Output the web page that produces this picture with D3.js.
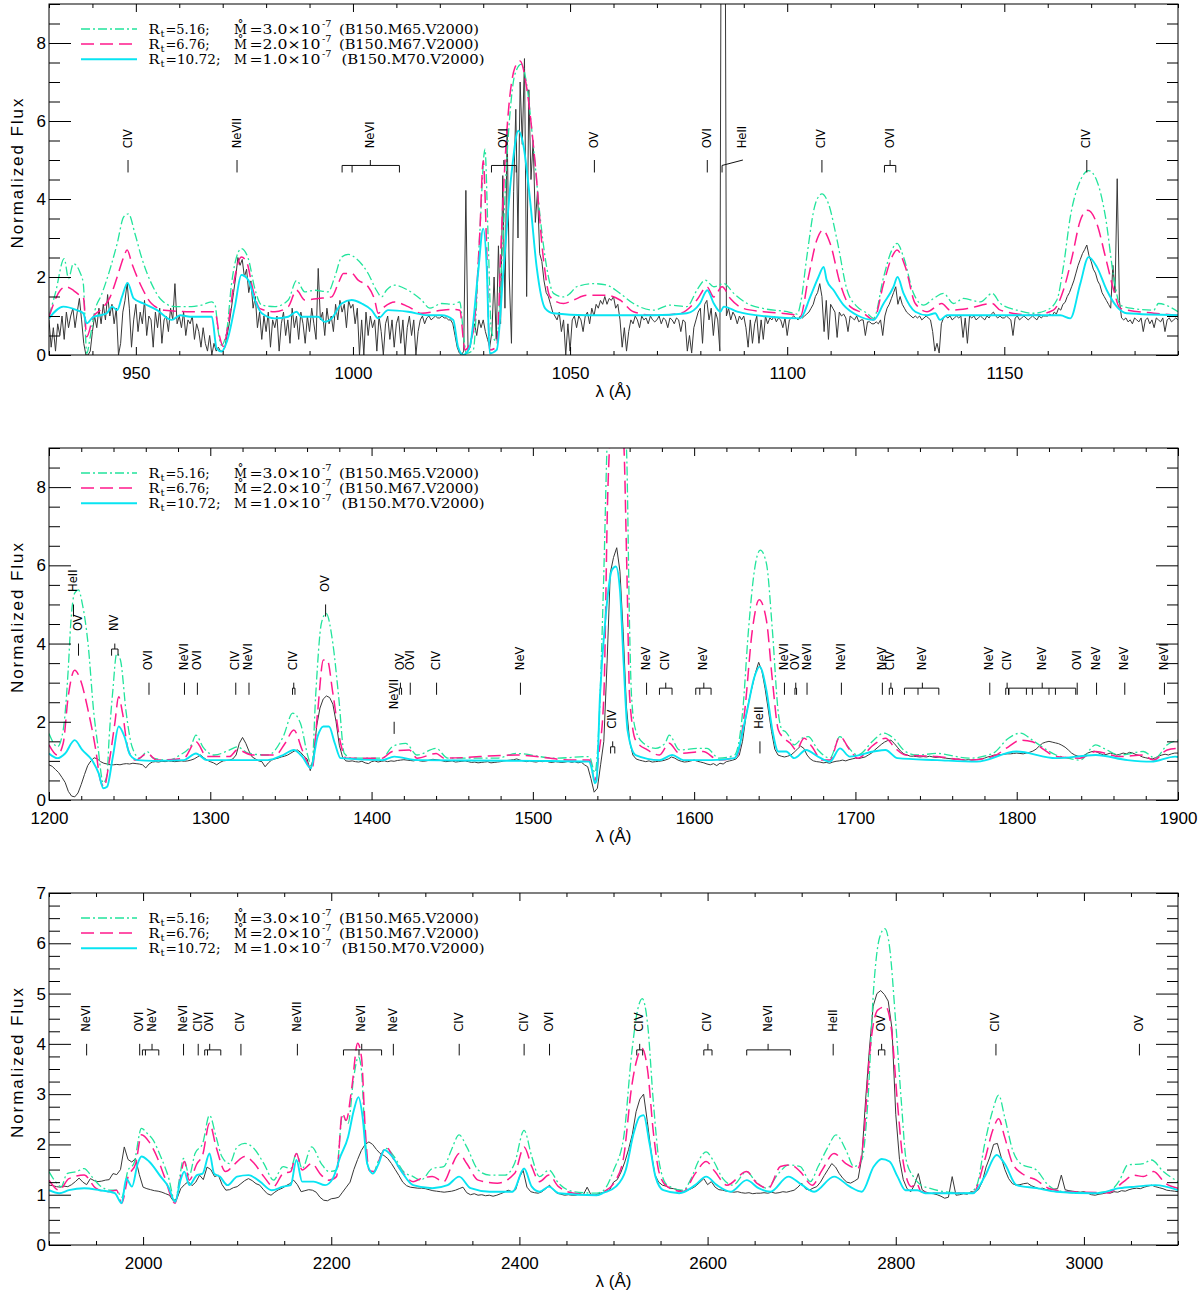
<!DOCTYPE html>
<html><head><meta charset="utf-8">
<script src="https://cdn.jsdelivr.net/npm/d3@7"></script>
<style>body{margin:0;background:#fff}svg{display:block}</style>
</head><body>
<svg id="chart" width="1202" height="1296"></svg>
<script>
// ---------------- DATA ----------------
const P1_XRANGE = [930, 1190], P2_XRANGE = [1200, 1900], P3_XRANGE = [1900, 3100];
const P1_YRANGE = [0, 9], P2_YRANGE = [0, 9], P3_YRANGE = [0, 7];
const P1_XTICKS = [950, 1000, 1050, 1100, 1150];
const P2_XTICKS = [1200, 1300, 1400, 1500, 1600, 1700, 1800, 1900];
const P3_XTICKS = [2000, 2200, 2400, 2600, 2800, 3000];
const P1_YTICKS = [0, 2, 4, 6, 8], P2_YTICKS = [0, 2, 4, 6, 8], P3_YTICKS = [0, 1, 2, 3, 4, 5, 6, 7];

const LEG_RT = ["5.16", "6.76", "10.72"];
const LEG_MDOT = ["3.0", "2.0", "1.0"];
const LEG_MODEL = ["B150.M65.V2000", "B150.M67.V2000", "B150.M70.V2000"];

// observed spectrum, panel 1 (start 930, step 0.5 A)
const P1_OBS_START = 930, P1_OBS_STEP = 0.5;
const P1_OBS = [
0.9,0.2,0.7,0.1,0.8,0.5,1.0,0.4,1.1,0.7,1.0,1.2,0.7,1.1,1.45,0.9,0.3,0.0,0.0,0.1,
0.6,1.0,0.7,1.2,0.8,1.3,0.9,1.55,1.0,1.3,0.8,1.2,0.0,0.3,1.1,1.4,1.85,1.2,0.2,0.9,
1.3,0.6,1.1,0.8,1.4,0.5,1.0,0.9,0.2,1.1,0.7,1.2,0.3,0.9,1.0,0.6,1.2,0.9,1.83,0.8,
1.0,0.7,1.1,0.5,0.9,0.8,1.0,0.4,0.8,0.6,0.2,0.7,0.3,0.1,0.5,0.0,0.3,0.1,0.2,0.1,
0.1,0.2,0.5,0.8,1.2,1.6,2.0,2.5,2.3,2.45,2.0,2.2,1.6,1.9,1.2,1.5,0.7,1.1,0.4,1.0,
0.6,1.1,0.2,0.9,0.7,1.0,0.1,0.8,1.1,0.5,0.9,0.3,1.2,0.7,1.0,0.4,1.1,0.8,0.3,1.0,
0.6,1.2,0.8,0.4,2.22,0.9,1.1,0.5,1.2,0.8,1.0,0.6,1.3,0.9,1.4,1.1,1.3,0.7,1.4,1.2,
1.3,0.8,1.2,0.0,0.9,0.0,1.1,0.5,1.0,0.7,0.9,0.1,1.0,0.6,0.0,0.8,1.0,0.4,0.9,0.2,
0.8,1.0,0.3,0.9,0.0,0.7,1.0,0.5,0.9,0.0,0.6,0.9,1.0,0.8,0.95,1.0,0.9,0.95,1.0,0.95,
0.95,1.0,0.95,0.95,0.9,0.9,0.8,0.5,0.2,0.05,0.0,0.1,4.22,0.1,0.2,0.6,0.8,0.5,0.9,0.7,
0.9,0.6,0.4,0.2,0.6,2.0,0.4,2.8,0.8,4.6,1.2,5.8,2.0,0.3,4.2,6.3,3.0,7.0,5.4,7.6,
1.5,6.8,4.5,5.5,3.4,4.2,2.6,2.4,1.9,1.6,1.5,1.3,1.1,1.0,0.9,1.1,0.6,0.9,0.0,0.8,
0.1,0.9,1.0,0.7,1.0,0.9,0.6,1.0,1.1,0.8,1.2,1.0,1.3,1.2,1.4,1.3,1.5,1.3,1.45,1.4,
1.5,1.2,1.3,0.9,0.2,0.7,0.1,0.6,0.9,0.8,1.0,0.9,0.7,1.0,0.9,0.95,0.8,1.0,0.9,0.85,
0.9,1.0,0.8,0.95,0.9,0.7,0.95,0.9,0.8,0.95,0.9,0.6,0.9,0.85,0.1,0.5,0.05,0.7,0.9,1.1,
1.2,0.3,1.3,1.4,0.9,1.2,0.5,1.1,0.9,0.1,20,20,1.0,1.2,0.9,1.1,1.0,0.8,1.0,0.9,
1.0,0.7,0.2,0.9,0.3,0.8,1.0,0.3,0.9,0.4,1.0,0.8,0.95,0.9,1.0,0.85,0.95,0.9,0.7,0.95,
0.5,0.9,0.95,1.0,0.95,0.9,1.0,0.95,1.0,1.05,1.1,1.2,1.3,1.5,1.6,1.83,1.5,0.6,1.4,0.4,
1.3,1.2,1.1,0.45,1.1,1.0,1.05,0.95,0.6,1.0,0.95,0.9,1.0,0.85,0.9,0.9,0.5,0.85,0.85,0.8,
0.8,0.85,0.8,0.9,0.5,1.0,1.2,1.3,1.45,1.6,1.75,1.3,1.5,1.3,1.2,1.1,1.05,1.0,0.95,1.0,
0.95,1.0,0.9,0.95,1.0,0.95,0.9,0.6,0.1,0.3,0.05,0.8,0.95,1.0,0.95,1.0,0.9,0.95,1.0,0.95,
1.0,0.45,0.95,0.3,1.0,0.95,1.0,0.9,0.95,1.0,0.95,0.9,1.0,0.95,1.05,1.1,1.0,0.95,1.0,0.95,
0.95,1.0,0.95,0.9,0.5,0.95,1.0,0.9,0.95,1.0,0.95,0.9,0.95,1.0,0.95,0.9,1.0,0.95,1.0,1.0,
1.0,1.05,1.0,1.1,1.05,1.2,1.15,1.3,1.35,1.5,1.6,1.75,1.9,2.1,2.3,2.45,2.6,2.7,2.82,2.55,
2.4,2.2,2.1,1.9,1.8,1.6,1.5,1.4,1.3,1.2,2.3,1.6,4.52,1.4,0.95,0.9,0.95,0.85,0.9,0.8,
0.95,0.9,0.85,0.95,0.6,0.9,0.95,0.8,0.9,0.7,0.95,0.9,0.85,0.95,0.6,0.9,0.95,0.85,0.9,0.95,0.9
];
const P1_M65 = [[930,1.0],[931.5,1.6],[933.5,2.47],[934.5,1.96],[935.6,2.34],[937.1,2.13],[937.9,1.83],[938.7,0.04],[939.5,0.47],[940.6,1.15],[942.1,1.55],[943.0,1.83],[945.7,2.86],[947.2,3.54],[948.3,3.62],[949.8,3.11],[951.3,2.51],[953.6,1.83],[955.9,1.41],[959.0,1.24],[962.8,1.24],[965.1,1.28],[967.4,1.36],[968.2,1.3],[969.0,0.59],[969.7,0.25],[970.9,0.59],[972.0,1.79],[973.6,2.64],[974.3,2.73],[975.9,2.47],[977.4,1.7],[979.0,1.28],[982.0,1.24],[985.1,1.41],[987.0,1.91],[988.9,1.62],[991.2,1.66],[994.3,1.62],[995.8,2.0],[997.4,2.51],[998.9,2.58],[1000.8,2.47],[1003.5,2.09],[1005.4,1.66],[1006.6,1.49],[1007.7,1.66],[1009.6,1.79],[1012.7,1.66],[1015.8,1.41],[1017.7,1.2],[1020.4,1.32],[1023.1,1.3],[1024.6,1.36],[1025.4,0.6],[1026.1,0.04],[1027.7,0.13],[1029.2,3.11],[1030.4,5.28],[1031.1,3.11],[1031.9,0.6],[1033.1,0.34],[1034.2,2.26],[1035.8,5.67],[1037.3,7.2],[1038.8,7.46],[1040.0,6.95],[1041.5,5.41],[1043.1,3.54],[1044.6,2.26],[1046.2,1.58],[1048.5,1.49],[1050.0,1.58],[1051.5,1.75],[1055.4,1.83],[1058.5,1.79],[1061.5,1.58],[1064.6,1.32],[1069.2,1.15],[1073.0,1.28],[1076.9,1.24],[1079.2,1.66],[1081.1,1.92],[1083.1,1.75],[1085.4,1.83],[1087.7,1.58],[1090.8,1.32],[1094.6,1.19],[1100.0,1.11],[1102.3,1.05],[1103.2,1.4],[1104.5,2.5],[1106.5,3.88],[1108.0,4.13],[1109.5,3.88],[1111.5,2.94],[1113.8,1.66],[1116.1,1.24],[1118.4,1.07],[1119.9,0.94],[1122.2,2.0],[1124.1,2.69],[1125.3,2.86],[1126.8,2.51],[1129.1,1.58],[1131.4,1.28],[1133.7,1.45],[1136.0,1.58],[1138.3,1.32],[1140.6,1.45],[1144.5,1.36],[1147.2,1.58],[1149.1,1.32],[1152.9,1.15],[1156.7,1.07],[1159.8,1.15],[1162.1,1.41],[1163.6,2.26],[1165.2,3.54],[1167.5,4.47],[1169.4,4.73],[1171.3,4.47],[1173.3,3.54],[1175.2,2.0],[1176.7,1.28],[1179.8,1.19],[1184.4,1.15],[1185.5,1.32],[1190,1.11]];
const P1_M67 = [[930,0.98],[932.6,1.66],[933.8,1.75],[935.6,1.66],[937.1,1.53],[937.9,1.49],[938.7,0.47],[940.2,0.98],[941.8,1.15],[944.1,1.49],[945.7,2.0],[947.2,2.51],[948.0,2.69],[949.1,2.34],[951.3,1.75],[953.6,1.32],[956.6,1.15],[962.8,1.11],[968.2,1.11],[969.3,0.47],[970.1,0.22],[971.3,0.81],[972.8,2.0],[974.3,2.51],[975.5,2.39],[977.0,1.66],[978.6,1.19],[982.0,1.11],[985.1,1.24],[987.0,1.66],[988.9,1.41],[992.0,1.45],[995.1,1.49],[996.6,1.83],[997.8,2.09],[999.7,2.09],[1001.2,1.92],[1003.5,1.75],[1005.0,1.41],[1005.8,1.07],[1007.3,1.24],[1009.6,1.36],[1012.7,1.24],[1015.8,1.07],[1020.4,1.15],[1023.1,1.17],[1024.6,1.15],[1025.8,0.13],[1027.7,0.6],[1029.2,3.11],[1030.0,4.98],[1030.8,2.69],[1031.5,0.13],[1033.1,0.21],[1034.2,3.11],[1035.4,5.67],[1037.3,7.37],[1038.5,7.54],[1040.0,6.86],[1041.9,4.98],[1043.9,2.43],[1045.4,1.49],[1048.5,1.32],[1050.8,1.41],[1053.8,1.53],[1058.5,1.53],[1061.5,1.41],[1064.6,1.11],[1069.2,1.02],[1075.4,1.07],[1079.2,1.41],[1081.5,1.75],[1083.1,1.49],[1085.0,1.75],[1086.9,1.45],[1090.0,1.19],[1094.6,1.11],[1102.3,1.02],[1103,0.98],[1104.9,2.0],[1106.8,2.94],[1108.2,3.2],[1109.9,2.86],[1112.2,1.83],[1114.5,1.24],[1117.6,1.07],[1119.9,0.9],[1122.2,1.83],[1124.1,2.51],[1125.3,2.69],[1127.2,2.26],[1129.5,1.32],[1132.2,1.11],[1135.6,1.32],[1137.5,1.15],[1141.4,1.19],[1147.2,1.32],[1149.1,1.15],[1156.7,1.02],[1161.3,1.15],[1163.6,1.66],[1165.6,2.51],[1167.5,3.45],[1169.2,3.71],[1171.3,3.37],[1173.3,2.51],[1175.2,1.66],[1176.7,1.19],[1184.4,1.07],[1190,1.02]];
const P1_M70 = [[930,0.94],[933.3,1.24],[936.4,1.15],[937.9,1.07],[938.7,0.81],[940.2,0.98],[941.8,1.02],[943.3,1.07],[944.5,1.24],[945.7,1.15],[946.8,1.49],[948.1,1.85],[949.5,1.45],[951.8,1.32],[954.9,1.15],[958.3,0.9],[960.2,1.02],[962.5,0.98],[967.5,0.98],[968.6,0.17],[969.7,0.09],[971.3,0.47],[972.8,1.24],[974.3,2.05],[975.9,1.92],[977.4,1.41],[979.0,1.07],[982.0,0.94],[985.1,0.98],[987.0,1.11],[988.1,0.98],[992.0,0.98],[993.5,0.85],[995.1,0.94],[997.4,1.32],[999.7,1.41],[1002.0,1.32],[1004.3,1.15],[1005.8,0.94],[1008.1,1.15],[1012.7,1.11],[1017.3,1.02],[1020.4,1.02],[1023.1,0.9],[1024.2,0.21],[1025.4,0.0],[1026.9,0.21],[1028.8,2.09],[1030.0,3.24],[1030.8,2.26],[1031.5,0.04],[1033.1,0.13],[1034.6,2.09],[1036.5,4.64],[1038.1,5.75],[1039.2,5.41],[1040.8,3.96],[1042.3,2.26],[1044.3,1.19],[1046.2,1.07],[1053.8,1.02],[1061.5,1.02],[1069.2,1.02],[1076.9,1.07],[1079.9,1.32],[1081.6,1.66],[1083.1,1.32],[1084.6,1.11],[1085.4,1.24],[1088.5,1.11],[1096.1,0.98],[1103.0,0.94],[1105.3,1.49],[1107.2,2.0],[1108.4,2.26],[1109.1,1.92],[1110.7,1.66],[1113.0,1.28],[1116.1,1.02],[1119.9,0.9],[1122.2,1.32],[1124.5,1.75],[1125.4,2.0],[1126.8,1.58],[1129.5,1.11],[1132.2,1.02],[1134.1,1.07],[1135.2,0.9],[1136.8,1.02],[1149.1,1.02],[1162.9,1.02],[1165.2,0.94],[1167.5,1.83],[1169.4,2.51],[1171.3,2.26],[1173.6,1.66],[1175.9,1.24],[1178.2,1.07],[1190,1.02]];

// observed spectrum, panel 2 (start 1200, step 2 A)
const P2_OBS_START = 1200, P2_OBS_STEP = 2;
const P2_OBS = [
0.9,0.86,0.78,0.7,0.58,0.45,0.22,0.1,0.08,0.18,
0.4,0.65,0.88,1.0,1.08,1.05,0.98,0.94,0.92,0.9,
0.9,0.91,0.9,0.92,0.93,0.92,0.94,0.93,0.92,0.9,
0.82,0.92,0.97,0.98,0.97,0.99,0.98,1.0,0.99,0.98,
0.99,1.0,0.99,1.0,1.02,1.05,1.1,1.15,1.08,1.02,
0.98,0.95,0.9,0.96,1.0,1.01,1.02,1.05,1.15,1.45,
1.6,1.45,1.25,1.1,1.05,1.0,0.98,0.85,0.95,1.02,
1.05,1.07,1.1,1.12,1.15,1.2,1.25,1.28,1.22,1.12,
1.05,0.75,1.1,1.9,2.35,2.58,2.66,2.62,2.45,2.0,
1.4,1.1,1.0,0.99,1.0,0.98,0.97,0.99,0.95,0.93,
0.98,1.0,0.97,0.99,1.0,0.98,1.0,0.99,1.01,1.02,
1.03,1.02,1.01,1.0,1.02,1.0,0.99,1.0,1.02,1.04,
1.03,1.02,1.0,0.98,0.99,1.0,0.97,0.98,0.99,1.0,
0.98,0.96,0.97,0.95,0.96,0.97,0.98,0.95,0.96,0.97,
0.98,1.0,1.01,1.02,1.03,1.05,1.02,1.0,0.98,1.0,
0.98,0.97,0.99,0.98,1.0,0.97,0.96,0.98,0.97,0.96,
0.97,0.99,0.96,0.98,0.95,0.97,0.9,0.85,0.55,0.2,
0.3,0.9,1.5,3.5,5.8,6.2,6.45,5.85,4.3,2.4,
1.5,1.15,1.05,1.02,1.0,0.98,1.0,0.97,0.98,0.99,
1.0,1.02,1.05,1.1,1.07,1.02,0.99,0.97,0.98,1.0,
1.02,0.99,0.97,0.95,0.92,0.9,0.93,0.88,0.94,0.92,
0.98,1.0,1.02,1.05,1.15,1.5,2.1,2.55,2.9,3.25,
3.52,3.3,2.85,2.3,1.75,1.3,1.15,1.12,1.1,1.12,
1.15,1.22,1.3,1.38,1.32,1.15,1.05,1.0,0.98,0.97,
0.95,0.96,0.94,0.97,0.99,1.0,1.02,1.0,1.03,1.05,
1.07,1.06,1.08,1.1,1.15,1.2,1.28,1.35,1.42,1.48,
1.52,1.53,1.45,1.35,1.25,1.18,1.15,1.12,1.12,1.11,
1.1,1.11,1.1,1.12,1.1,1.09,1.1,1.08,1.07,1.06,
1.05,1.04,1.05,1.03,1.02,1.03,1.02,1.03,1.04,1.05,
1.07,1.1,1.12,1.15,1.15,1.16,1.17,1.18,1.18,1.19,
1.2,1.19,1.18,1.2,1.22,1.25,1.3,1.38,1.45,1.48,
1.5,1.48,1.46,1.44,1.4,1.35,1.28,1.2,1.15,1.12,
1.1,1.15,1.2,1.23,1.25,1.22,1.18,1.15,1.17,1.2,
1.18,1.15,1.17,1.2,1.18,1.22,1.2,1.16,1.14,1.1,
1.08,1.06,1.05,1.08,1.12,1.15,1.17,1.15,1.18,1.2,
1.2
];
const P2_M65 = [[1200,1.7],[1205.2,1.36],[1208.8,1.79],[1211.9,3.32],[1213.5,4.52],[1215.9,5.29],[1218.3,5.37],[1220.6,5.03],[1224.2,4.0],[1227.8,2.22],[1230.1,1.45],[1233.7,0.43],[1236,0.64],[1237.2,1.53],[1239.6,2.81],[1242,3.75],[1244.3,3.58],[1247.9,2.22],[1251.5,1.36],[1256.2,1.07],[1260.9,1.24],[1264.5,1.07],[1274,1.02],[1281.2,1.15],[1288.3,1.41],[1291.1,1.66],[1295.4,1.36],[1302.5,1.15],[1312,1.28],[1316.7,1.36],[1323.9,1.19],[1335.7,1.15],[1345.2,1.62],[1351.1,2.22],[1355.9,1.96],[1360.6,1.11],[1363,0.85],[1365.3,2.64],[1368.9,4.52],[1371.8,4.77],[1376,4.0],[1379.6,2.64],[1383.1,1.19],[1387.9,1.07],[1406.6,1.07],[1412.8,1.36],[1421.1,1.45],[1428.2,1.15],[1440.1,1.32],[1447.2,1.07],[1478,1.07],[1489.6,1.19],[1513.6,1.07],[1535,1.11],[1538.5,0.7],[1541,1.96],[1543.8,5.5],[1546.3,9.5],[1549,11.5],[1552,12],[1555,11],[1558.2,8.8],[1560,4.35],[1561.2,2.64],[1563.7,1.79],[1568.6,1.45],[1576,1.32],[1582,1.45],[1584.5,1.66],[1590.9,1.28],[1603,1.32],[1607.9,1.32],[1615.3,1.07],[1625,1.15],[1630,2.22],[1633.7,4.35],[1637.4,5.88],[1641,6.39],[1644.8,6.05],[1648.5,4.35],[1652.2,2.22],[1654.6,1.79],[1656.5,1.75],[1658.3,1.66],[1662,1.41],[1667,1.58],[1670.7,1.62],[1676.8,1.28],[1684.2,1.07],[1690.4,1.62],[1695.3,1.36],[1701.4,1.15],[1711.3,1.53],[1717.4,1.71],[1723.6,1.58],[1731,1.24],[1738.4,1.15],[1750.6,1.19],[1770.3,1.07],[1785.1,1.19],[1794.9,1.58],[1802.3,1.71],[1809.7,1.53],[1817.1,1.32],[1824.4,1.15],[1831.8,1.07],[1839.2,1.02],[1849,1.41],[1854,1.32],[1863.8,1.15],[1878.5,1.24],[1885.9,1.07],[1893.3,1.41],[1900,1.53]];
const P2_M67 = [[1200,1.41],[1205.2,1.15],[1208.8,1.45],[1211.9,2.64],[1215.9,3.32],[1219.5,3.07],[1224.2,2.3],[1229,1.28],[1231.8,0.51],[1234.2,0.34],[1237.2,0.94],[1240.8,1.96],[1243.2,2.64],[1245.6,2.22],[1249.1,1.28],[1253.8,1.02],[1260.9,1.19],[1266.8,1.02],[1283.6,1.07],[1291.1,1.49],[1297.8,1.11],[1312,1.11],[1316.7,1.28],[1326.2,1.15],[1340.4,1.15],[1346.4,1.45],[1351.8,1.79],[1357,1.28],[1363,0.77],[1366.5,2.22],[1370.1,3.58],[1372.5,3.58],[1376,2.73],[1380.8,1.45],[1384.3,1.07],[1406.6,1.07],[1412.8,1.24],[1423.4,1.28],[1428.2,1.07],[1440.1,1.19],[1444.9,1.07],[1489.6,1.15],[1525.2,1.02],[1535,1.02],[1538.5,0.5],[1541,1.2],[1544,2.64],[1546.4,7.76],[1548.8,9.8],[1551.5,10.5],[1554.5,9.8],[1556.3,9.2],[1558.2,6.05],[1560,2.64],[1563.7,1.53],[1571,1.28],[1578.5,1.15],[1584.5,1.45],[1590.9,1.19],[1605.5,1.24],[1615.3,1.02],[1626.2,1.11],[1631.2,2.22],[1636.1,4.35],[1640.3,5.12],[1644.8,4.6],[1648.5,3.07],[1652.2,1.79],[1655.8,1.58],[1659.6,1.45],[1663.3,1.28],[1668.2,1.58],[1673.1,1.36],[1679.2,1.02],[1684.2,1.02],[1690.4,1.62],[1696.5,1.28],[1701.4,1.07],[1711.3,1.41],[1718.6,1.58],[1724.8,1.32],[1731,1.15],[1750.6,1.11],[1770.3,1.02],[1785.1,1.11],[1794.9,1.36],[1802.3,1.53],[1809.7,1.49],[1817.1,1.28],[1824.4,1.11],[1839.2,1.07],[1849,1.24],[1863.8,1.11],[1878.5,1.15],[1884.7,1.02],[1893.3,1.28],[1900,1.32]];
const P2_M70 = [[1200,1.19],[1205.2,1.07],[1210,1.19],[1215.9,1.53],[1220.6,1.28],[1226.6,1.02],[1230.8,0.68],[1233.7,0.3],[1236,0.34],[1239.6,1.11],[1243.2,1.88],[1246.8,1.62],[1250.3,1.15],[1255,1.02],[1264.5,1.0],[1283.6,1.02],[1291.1,1.19],[1297.8,1.02],[1335.7,1.02],[1345.2,1.15],[1351.8,1.28],[1357,1.11],[1362.3,0.81],[1366.5,1.62],[1370.1,1.88],[1373.6,1.88],[1377.2,1.45],[1380.8,1.07],[1406.6,1.02],[1414,1.11],[1428.2,1.02],[1501.6,1.0],[1535,0.98],[1536.5,0.8],[1538.5,0.43],[1539.5,0.5],[1541.6,2.64],[1545.3,4.77],[1549,5.88],[1551.5,5.97],[1554,5.37],[1556.3,3.49],[1558.7,1.79],[1563.7,1.15],[1578.5,1.02],[1586.4,1.15],[1593.3,1.02],[1610.5,1.02],[1625,1.07],[1632.5,2.22],[1637.4,3.15],[1640.6,3.41],[1644.8,2.81],[1648.5,1.79],[1652.2,1.24],[1657.1,1.24],[1662,1.07],[1669.4,1.28],[1676.8,1.11],[1684.2,0.98],[1690.4,1.32],[1696.5,1.11],[1711.3,1.24],[1718.6,1.28],[1726.1,1.07],[1750.6,1.02],[1775.2,0.98],[1799.8,1.24],[1824.4,1.07],[1849,1.15],[1868.7,1.02],[1883.4,0.98],[1898.2,1.11],[1900,1.1]];

// observed spectrum, panel 3 (start 1900, step 4 A)
const P3_OBS_START = 1900, P3_OBS_STEP = 4;
const P3_OBS = [
1.19,1.18,1.16,1.15,1.17,1.16,1.2,1.26,1.33,1.25,
1.2,1.32,1.28,1.26,1.27,1.29,1.3,1.42,1.4,1.5,
1.95,1.7,1.65,1.72,1.4,1.15,1.12,1.1,1.08,1.07,
1.05,1.02,0.99,0.88,0.92,1.12,1.2,1.26,1.18,1.25,
1.39,1.3,1.55,1.5,1.36,1.39,1.2,1.09,1.1,1.14,
1.16,1.22,1.28,1.32,1.28,1.22,1.19,1.1,1.02,0.99,
1.05,1.1,1.13,1.18,1.22,1.29,1.2,1.06,1.08,1.1,
1.09,1.05,0.95,0.89,0.88,0.92,0.93,0.95,1.05,1.15,
1.25,1.5,1.7,1.88,2.0,2.05,2.0,1.9,1.82,1.78,
1.72,1.62,1.5,1.38,1.25,1.18,1.15,1.14,1.13,1.13,
1.12,1.1,1.08,1.07,1.06,1.05,1.06,1.07,1.09,1.12,
1.15,1.04,1.0,1.02,0.99,1.0,0.98,0.99,0.97,0.99,
1.02,1.05,1.09,1.06,1.1,1.35,1.48,1.15,1.06,1.04,
1.03,1.06,1.12,1.19,1.1,1.03,1.01,0.99,1.0,0.99,
0.99,1.02,1.0,1.15,1.0,0.99,1.02,1.04,1.06,1.1,
1.25,1.3,1.45,1.65,1.9,2.2,2.65,2.9,3.0,2.45,
1.85,1.4,1.25,1.19,1.17,1.13,1.12,1.1,1.08,1.06,
1.1,1.13,1.18,1.25,1.32,1.2,1.26,1.15,1.1,1.09,
1.07,1.06,1.05,1.06,1.04,1.03,1.04,1.02,1.03,1.03,
1.04,1.03,1.05,1.03,1.04,1.06,1.05,1.07,1.09,1.15,
1.23,1.12,1.09,1.13,1.16,1.25,1.38,1.5,1.62,1.55,
1.42,1.32,1.25,1.23,1.27,1.32,1.75,2.9,3.9,4.75,
5.0,5.06,4.98,4.85,4.3,2.6,1.7,1.3,1.12,1.06,
1.2,1.42,1.1,1.05,1.03,1.02,1.0,0.97,0.93,0.95,
1.36,0.99,1.0,1.02,1.01,1.06,1.05,1.1,1.26,1.55,
1.75,2.0,2.02,1.75,1.5,1.32,1.22,1.19,1.2,1.22,
1.23,1.18,1.15,1.12,1.13,1.1,1.09,1.11,1.12,1.39,
1.1,1.08,1.07,1.06,1.05,1.06,1.03,1.0,0.99,1.01,
1.02,1.04,1.03,1.06,1.05,1.08,1.07,1.1,1.12,1.13,
1.12,1.15,1.17,1.19,1.16,1.14,1.12,1.09,1.08,1.07,
1.06
];
const P3_M65 = [[1900,1.46],[1906.9,1.26],[1913,1.16],[1919.1,1.42],[1929.2,1.46],[1937.4,1.52],[1945.5,1.36],[1953.6,1.19],[1965.8,1.09],[1971.9,1.09],[1977.2,0.95],[1984.1,1.49],[1990.2,1.62],[1998.3,2.32],[2004.4,2.22],[2010.6,2.09],[2018.7,1.76],[2026.8,1.36],[2034.1,0.86],[2039,1.36],[2043,1.72],[2049.1,1.39],[2055.2,1.82],[2063.3,2.02],[2070.6,2.58],[2077.6,2.15],[2083.7,1.76],[2091.8,1.62],[2099.9,1.95],[2108.1,2.02],[2116.2,1.95],[2128.4,1.62],[2138.6,1.29],[2148.8,1.56],[2156.9,1.52],[2163,1.82],[2169.1,1.52],[2179.2,1.95],[2189.4,1.62],[2197.5,1.46],[2205.6,1.49],[2211.7,2.55],[2217.9,2.42],[2224,3.35],[2228.9,3.74],[2232.1,3.48],[2235,2.48],[2239,1.56],[2244.3,1.42],[2250.4,1.69],[2258.6,1.92],[2266.7,1.76],[2276.9,1.46],[2287,1.36],[2295.2,1.29],[2307.4,1.52],[2319.6,1.56],[2327.7,1.89],[2335.9,2.19],[2344,1.95],[2356.2,1.49],[2368.4,1.39],[2384.7,1.39],[2394.8,1.62],[2405,2.28],[2413.1,1.76],[2421.3,1.36],[2431.4,1.49],[2441.6,1.23],[2457.9,1.06],[2482.3,1.03],[2489.7,1.09],[2500.2,1.49],[2510.9,2.15],[2519.3,3.81],[2525.6,4.67],[2530.6,4.9],[2536.2,4.4],[2542.5,2.81],[2548.8,1.62],[2557.2,1.19],[2574.1,1.09],[2582.5,1.32],[2590.9,1.69],[2598.5,1.85],[2605.7,1.69],[2616.3,1.32],[2626.8,1.19],[2641.6,1.46],[2650,1.29],[2662.6,1.13],[2675.3,1.42],[2685.8,1.59],[2698.5,1.56],[2709.1,1.26],[2717.5,1.56],[2728,1.95],[2736.5,2.19],[2747,1.89],[2755.5,1.56],[2763.9,1.69],[2770.2,2.81],[2776.6,5.13],[2782.9,6.12],[2788.4,6.29],[2793.4,5.93],[2799.8,4.47],[2806.1,2.81],[2811.1,1.69],[2818.7,1.36],[2827.1,1.19],[2835.6,1.13],[2852.5,1.06],[2877.8,1.03],[2886.2,1.19],[2894.6,2.02],[2903.1,2.68],[2909.4,2.98],[2915.7,2.55],[2924.2,1.89],[2932.6,1.62],[2949.5,1.49],[2962.1,1.19],[2970.6,1.09],[2995.9,1.03],[3025.4,1.06],[3038,1.29],[3046.5,1.59],[3063.3,1.62],[3071.8,1.69],[3084.4,1.46],[3100,1.26]];
const P3_M67 = [[1900,1.29],[1910.9,1.09],[1921.1,1.32],[1937.4,1.39],[1949.6,1.13],[1961.8,1.06],[1971.9,1.09],[1977.2,0.83],[1984.1,1.36],[1992.2,1.62],[1998.3,2.19],[2006.4,2.05],[2014.6,1.76],[2022.7,1.36],[2034.1,0.83],[2039,1.26],[2043.8,1.66],[2049.1,1.29],[2057.3,1.62],[2063.3,1.79],[2070.6,2.42],[2077.6,1.95],[2087.7,1.46],[2097.9,1.62],[2108.1,1.76],[2118.2,1.62],[2128.4,1.36],[2138.6,1.16],[2148.8,1.42],[2156.9,1.46],[2163,1.82],[2169.1,1.49],[2179.2,1.62],[2189.4,1.39],[2197.5,1.29],[2205.6,1.36],[2211.7,2.62],[2215.8,2.48],[2222,3.15],[2228,4.01],[2232.1,3.74],[2236.2,2.28],[2240.2,1.49],[2245.5,1.46],[2252.4,1.76],[2258.6,1.95],[2266.7,1.69],[2276.9,1.42],[2287,1.26],[2295.2,1.32],[2307.4,1.36],[2319.6,1.26],[2327.7,1.56],[2335.9,1.82],[2344,1.62],[2356.2,1.29],[2376.5,1.23],[2394.8,1.42],[2405,1.95],[2413.1,1.56],[2421.3,1.26],[2431.4,1.39],[2441.6,1.16],[2457.9,1.03],[2482.3,0.99],[2489.7,1.06],[2502.4,1.29],[2510.9,1.76],[2519.3,3.15],[2525.6,3.74],[2530.6,3.91],[2536.2,3.48],[2542.5,2.22],[2548.8,1.42],[2557.2,1.16],[2574.1,1.06],[2586.8,1.42],[2598.5,1.66],[2607.8,1.46],[2620.5,1.19],[2641.6,1.46],[2652.2,1.23],[2664.8,1.13],[2677.4,1.56],[2688,1.59],[2698.5,1.46],[2711.2,1.19],[2721.7,1.49],[2734.4,1.82],[2747,1.62],[2759.7,1.52],[2766,2.15],[2772.3,3.81],[2780.8,4.67],[2789.2,4.74],[2795.5,4.27],[2801.9,2.81],[2808.2,1.62],[2816.6,1.16],[2822.1,1.23],[2827.1,1.06],[2844,1.03],[2882,1.03],[2894.6,1.69],[2903.1,2.28],[2909.4,2.51],[2915.7,2.15],[2924.2,1.62],[2936.8,1.39],[2949.5,1.29],[2962.1,1.13],[2983.2,1.06],[3025.4,1.04],[3042.3,1.26],[3052.8,1.39],[3063.3,1.36],[3073.9,1.46],[3086.5,1.23],[3100,1.13]];
const P3_M70 = [[1900,1.09],[1910.9,1.03],[1921.1,1.09],[1937.4,1.13],[1953.6,1.09],[1969.9,1.03],[1977.2,0.83],[1982.1,1.32],[1988.2,1.16],[1994.3,1.62],[1998.3,1.76],[2006.4,1.66],[2018.7,1.36],[2026.8,1.16],[2034.1,0.86],[2039.8,1.29],[2043.8,1.46],[2049.1,1.19],[2057.3,1.39],[2063.3,1.42],[2070.6,1.82],[2075.5,1.42],[2081.6,1.36],[2089.7,1.19],[2099.9,1.36],[2112.1,1.39],[2124.3,1.26],[2136.6,1.09],[2148.8,1.16],[2156.9,1.19],[2163,1.69],[2169.1,1.26],[2181.3,1.26],[2193.5,1.19],[2201.6,1.32],[2209.7,1.76],[2217.9,2.15],[2224,2.68],[2228.9,2.94],[2233.3,2.55],[2238.2,1.62],[2244.3,1.42],[2250.4,1.62],[2256.5,1.89],[2264.7,1.76],[2274.8,1.46],[2287,1.19],[2307.4,1.13],[2323.7,1.19],[2335.9,1.36],[2348.1,1.13],[2368.4,1.06],[2392.8,1.06],[2405,1.52],[2413.1,1.16],[2421.3,1.06],[2431.4,1.16],[2441.6,1.03],[2482.3,0.99],[2489.7,1.04],[2502.4,1.16],[2513,1.49],[2521.4,2.22],[2527.7,2.55],[2532,2.58],[2538.3,2.02],[2544.6,1.36],[2553,1.09],[2569.9,1.03],[2586.8,1.19],[2598.5,1.36],[2609.9,1.19],[2624.7,1.06],[2641.6,1.29],[2654.2,1.13],[2666.9,1.06],[2685.8,1.36],[2700.6,1.19],[2713.3,1.06],[2734.4,1.36],[2751.2,1.16],[2763.9,1.06],[2776.6,1.56],[2785,1.71],[2793.4,1.66],[2801.9,1.36],[2810.3,1.09],[2822.9,1.09],[2831.4,1.03],[2882,1.03],[2894.6,1.36],[2907.3,1.79],[2915.7,1.62],[2928.4,1.19],[2949.5,1.13],[2970.6,1.06],[3012.8,1.03],[3038,1.13],[3054.9,1.16],[3076,1.19],[3100,1.09]];

// line identifications: label, component wavelengths, optional centre / label position / level offset
const P1_IDS = [
 {t:"CIV",w:[948.2]},{t:"NeVII",w:[973.3]},{t:"NeVI",w:[997.5,999.8,1010.7],c:1004.0},
 {t:"OVI",w:[1031.9,1037.6]},{t:"OV",w:[1055.6]},{t:"OVI",w:[1081.6]},
 {t:"HeII",w:[1085.0],lab:1089.8},{t:"CIV",w:[1108.0]},{t:"OVI",w:[1122.4,1125.0]},{t:"CIV",w:[1169.0]}
];
const P2_IDS = [
 {t:"HeII",w:[1215.2],off:2.0},{t:"OV",w:[1218.3],off:1.0},{t:"NV",w:[1238.8,1242.8],off:1.0},
 {t:"OVI",w:[1262]},{t:"NeVI",w:[1284]},{t:"OVI",w:[1292]},{t:"CIV",w:[1315.8]},{t:"NeVI",w:[1324]},
 {t:"CIV",w:[1351,1352.5]},{t:"OV",w:[1371.5],off:2.0},{t:"NeVII",w:[1414],off:-1.0},
 {t:"OV",w:[1417.2,1418.6]},{t:"OVI",w:[1424]},{t:"CIV",w:[1440.3]},{t:"NeV",w:[1492.3]},
 {t:"CIV",w:[1548.2,1550.8],off:-1.5},{t:"NeV",w:[1570.5]},{t:"CIV",w:[1578.5,1586.3]},
 {t:"NeV",w:[1601,1603.5,1610.5],c:1606},{t:"HeII",w:[1640.8],off:-1.5},{t:"NeVI",w:[1656]},
 {t:"OV",w:[1662.5,1663.5]},{t:"NeVI",w:[1670]},{t:"NeVI",w:[1691.3]},{t:"NeV",w:[1716.7]},
 {t:"CIV",w:[1721,1723]},{t:"NeV",w:[1730.4,1738.8,1751.7],c:1741.5},{t:"NeV",w:[1783.3]},
 {t:"CIV",w:[1793.2,1794.9]},{t:"NeV",w:[1795.2,1806,1809.7,1820,1824,1836.6],c:1815.8},
 {t:"OVI",w:[1837.5]},{t:"NeV",w:[1849.5]},{t:"NeV",w:[1867]},{t:"NeVI",w:[1891.6]}
];
const P3_IDS = [
 {t:"NeVI",w:[1940]},{t:"OVI",w:[1996.4]},{t:"NeV",w:[1999.3,2002.5,2016.7],c:2009.5},
 {t:"NeVI",w:[2043]},{t:"CIV",w:[2058.6]},{t:"OVI",w:[2065.5,2068.5,2082.6],c:2070.8},
 {t:"CIV",w:[2104]},{t:"NeVII",w:[2164]},{t:"NeVI",w:[2213,2229.5,2253.5],c:2232.4},
 {t:"NeV",w:[2266]},{t:"CIV",w:[2336]},{t:"CIV",w:[2405]},{t:"OVI",w:[2432]},
 {t:"CIV",w:[2524.7,2531]},{t:"CIV",w:[2596,2604.7]},{t:"NeVI",w:[2641.6,2688],c:2664.3},
 {t:"HeII",w:[2733.5]},{t:"OV",w:[2781.6,2788.4]},{t:"CIV",w:[2906.5]},{t:"OV",w:[3059]}
];

// ---------------- DRAWING ----------------
const svg = d3.select("#chart");
const L = 49, R = 1178;
const SERIES_STYLE = [
  {color:"#22e49c", dash:"9,3,2,3", width:1.3},
  {color:"#ff1a8c", dash:"13,6", width:1.5},
  {color:"#08e4f2", dash:null, width:1.9}
];
const OBS_COLOR = "#383838";
const expand = (s, st, arr) => arr.map((v, i) => [s + st * i, v]);
const rangeEx = (a, b, st, maj) => d3.range(a, b + st / 2, st).map(v => +v.toFixed(4)).filter(v => !maj.includes(v));

const PANELS = [
  {top:4, bot:355, xd:P1_XRANGE, yd:P1_YRANGE, xMaj:P1_XTICKS, xMinStep:10, yMaj:P1_YTICKS, yMinStep:0.5,
   obs:expand(P1_OBS_START, P1_OBS_STEP, P1_OBS), models:[P1_M65, P1_M67, P1_M70], ids:P1_IDS,
   lev:{lo:4.68, mid:4.86, hi:5.0, lab:5.3}},
  {top:448, bot:800, xd:P2_XRANGE, yd:P2_YRANGE, xMaj:P2_XTICKS, xMinStep:20, yMaj:P2_YTICKS, yMinStep:0.5,
   obs:expand(P2_OBS_START, P2_OBS_STEP, P2_OBS), models:[P2_M65, P2_M67, P2_M70], ids:P2_IDS,
   lev:{lo:2.69, mid:2.86, hi:3.0, lab:3.32}},
  {top:893, bot:1245, xd:P3_XRANGE, yd:P3_YRANGE, xMaj:P3_XTICKS, xMinStep:50, yMaj:P3_YTICKS, yMinStep:0.25,
   obs:expand(P3_OBS_START, P3_OBS_STEP, P3_OBS), models:[P3_M65, P3_M67, P3_M70], ids:P3_IDS,
   lev:{lo:3.77, mid:3.88, hi:4.0, lab:4.24}}
];

const TICK_FONT = "'Liberation Sans', Arial, sans-serif";
const LEG_FONT = "'DejaVu Serif', serif";

PANELS.forEach((p, pi) => {
  const x = d3.scaleLinear().domain(p.xd).range([L, R]);
  const y = d3.scaleLinear().domain(p.yd).range([p.bot, p.top]);
  const g = svg.append("g");

  const clipId = "clip" + pi;
  svg.append("clipPath").attr("id", clipId).append("rect")
    .attr("x", L).attr("y", p.top).attr("width", R - L).attr("height", p.bot - p.top);

  const data = g.append("g").attr("clip-path", `url(#${clipId})`);
  const lin = d3.line().x(d => x(d[0])).y(d => y(d[1]));
  const smooth = d3.line().x(d => x(d[0])).y(d => y(d[1])).curve(d3.curveMonotoneX);

  data.append("path").attr("d", lin(p.obs)).attr("fill", "none")
    .attr("stroke", OBS_COLOR).attr("stroke-width", 1).attr("stroke-linejoin", "round");
  p.models.forEach((m, i) => {
    const s = SERIES_STYLE[i];
    data.append("path").attr("d", smooth(m)).attr("fill", "none")
      .attr("stroke", s.color).attr("stroke-width", s.width)
      .attr("stroke-dasharray", s.dash);
  });

  // axes
  const xMin = rangeEx(p.xd[0], p.xd[1], p.xMinStep, p.xMaj);
  const yMin = rangeEx(p.yd[0], p.yd[1], p.yMinStep, p.yMaj);
  const clean = sel => { sel.select(".domain").remove(); sel.attr("font-family", TICK_FONT).attr("font-size", 17).attr("color", "#000"); };
  const blank = () => "";
  g.append("g").attr("transform", `translate(0,${p.bot})`)
    .call(d3.axisBottom(x).tickValues(p.xMaj).tickSize(-8).tickPadding(12).tickFormat(d3.format("d"))).call(clean);
  g.append("g").attr("transform", `translate(0,${p.bot})`)
    .call(d3.axisBottom(x).tickValues(xMin).tickSize(-4).tickFormat(blank)).call(clean);
  g.append("g").attr("transform", `translate(0,${p.top})`)
    .call(d3.axisTop(x).tickValues(p.xMaj).tickSize(-8).tickFormat(blank)).call(clean);
  g.append("g").attr("transform", `translate(0,${p.top})`)
    .call(d3.axisTop(x).tickValues(xMin).tickSize(-4).tickFormat(blank)).call(clean);
  g.append("g").attr("transform", `translate(${L},0)`)
    .call(d3.axisLeft(y).tickValues(p.yMaj).tickSize(-22).tickPadding(3).tickFormat(d3.format("d"))).call(clean);
  g.append("g").attr("transform", `translate(${L},0)`)
    .call(d3.axisLeft(y).tickValues(yMin).tickSize(-11).tickFormat(blank)).call(clean);
  g.append("g").attr("transform", `translate(${R},0)`)
    .call(d3.axisRight(y).tickValues(p.yMaj).tickSize(-22).tickFormat(blank)).call(clean);
  g.append("g").attr("transform", `translate(${R},0)`)
    .call(d3.axisRight(y).tickValues(yMin).tickSize(-11).tickFormat(blank)).call(clean);
  g.append("rect").attr("x", L).attr("y", p.top).attr("width", R - L).attr("height", p.bot - p.top)
    .attr("fill", "none").attr("stroke", "#000").attr("stroke-width", 1);

  // axis titles
  g.append("text").attr("x", (L + R) / 2).attr("y", p.bot + 42).attr("text-anchor", "middle")
    .attr("font-family", TICK_FONT).attr("font-size", 17).text("λ (Å)");
  g.append("text").attr("transform", `translate(22.5,${(p.top + p.bot) / 2 - 6}) rotate(-90)`)
    .attr("text-anchor", "middle").attr("font-family", TICK_FONT).attr("font-size", 17)
    .attr("textLength", 150).attr("lengthAdjust", "spacing").text("Normalized Flux");

  // line identifications
  const ids = g.append("g").attr("stroke", "#111").attr("stroke-width", 1);
  const seg = (x1, y1, x2, y2) => ids.append("line").attr("x1", x1).attr("y1", y1).attr("x2", x2).attr("y2", y2);
  p.ids.forEach(d => {
    const off = d.off || 0;
    const lo = y(p.lev.lo + off), mid = y(p.lev.mid + off), hi = y(p.lev.hi + off), lab = y(p.lev.lab + off);
    let lx;
    if (d.lab != null) {
      const xx = x(d.w[0]);
      seg(xx, lo, xx, mid); seg(xx, mid, x(d.lab), hi);
      lx = x(d.lab);
    } else if (d.w.length === 1) {
      lx = x(d.w[0]); seg(lx, lo, lx, hi);
    } else {
      const c = d.c != null ? d.c : d3.mean(d.w);
      seg(x(d3.min(d.w)), mid, x(d3.max(d.w)), mid);
      d.w.forEach(w => seg(x(w), mid, x(w), lo));
      lx = x(c); seg(lx, mid, lx, hi);
    }
    g.append("text").attr("transform", `translate(${lx + 3.5},${lab}) rotate(-90)`)
      .attr("text-anchor", "start").attr("font-family", "'DejaVu Sans', sans-serif")
      .attr("font-size", 11.5).attr("fill", "#000").text(d.t);
  });

  // legend: pieces positioned to the reference layout, wide glyphs via textLength
  const lg = g.append("g").attr("font-family", LEG_FONT).attr("fill", "#000");
  const piece = (xx, yy, size, txt, len) => {
    const t = lg.append("text").attr("x", xx).attr("y", yy).attr("font-size", size).text(txt);
    if (len) t.attr("textLength", len).attr("lengthAdjust", "spacingAndGlyphs");
    return t;
  };
  for (let i = 0; i < 3; i++) {
    const ly = p.top + 25 + i * 15.1;
    const s = SERIES_STYLE[i];
    lg.append("line").attr("x1", 81).attr("x2", 137).attr("y1", ly).attr("y2", ly)
      .attr("stroke", s.color).attr("stroke-width", s.width).attr("stroke-dasharray", s.dash);
    const by = ly + 4.5;
    piece(148.5, by, 12.8, "R", 11);
    piece(160.5, by + 3, 9, "t", 4);
    piece(165.5, by, 12.8, "=" + LEG_RT[i] + ";", i === 2 ? 55 : 44);
    piece(234, by, 12.8, i < 2 ? "M\u030A" : "M", 13);
    piece(249.5, by, 12.8, "=" + LEG_MDOT[i] + "×10", 71);
    piece(322, ly - 2.5, 9, "-7", 9.5);
    piece(i === 2 ? 341.5 : 339, by, 12.8, "(" + LEG_MODEL[i] + ")", i === 2 ? 143 : 140);
  }
});
</script>
</body></html>
